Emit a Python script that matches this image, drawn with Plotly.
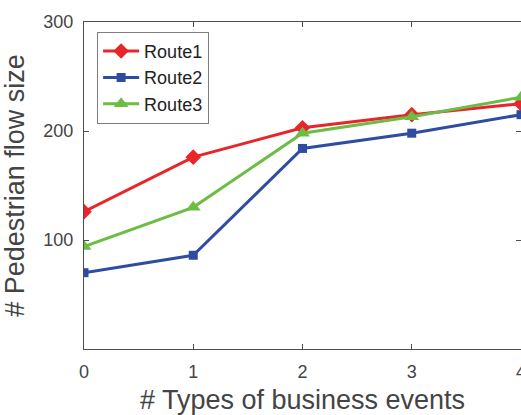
import plotly.graph_objects as go

# Number of business-event types on the x axis
event_types = [0, 1, 2, 3, 4]

# Pedestrian flow size per route
route1 = [126, 176, 203, 215, 225]
route2 = [70, 86, 184, 198, 215]
route3 = [94, 130, 198, 213, 231]

y_ticks = [100, 200, 300]

series = [
    ("Route1", route1, "#E8252B", "diamond", 12),
    ("Route2", route2, "#2F4DA0", "square", 9),
    ("Route3", route3, "#6CBD45", "triangle-up", 13),
]

fig = go.Figure()
for name, values, color, symbol, size in series:
    fig.add_trace(go.Scatter(
        x=event_types, y=values, name=name, mode="lines+markers",
        line=dict(color=color, width=3),
        marker=dict(symbol=symbol, size=size, color=color,
                    line=dict(width=0)),
        cliponaxis=True,
    ))

# invisible trace on a right-hand axis so the right side carries tick marks
fig.add_trace(go.Scatter(x=[0], y=[0], yaxis="y2", showlegend=False,
                         hoverinfo="skip", mode="markers",
                         marker=dict(opacity=0)))

axis_color = "#4d4d4d"
text_color = "#444444"
font_family = "Liberation Sans, Arial, sans-serif"

fig.update_layout(
    width=521, height=415,
    margin=dict(l=84, r=0, t=22, b=66, autoexpand=False),
    paper_bgcolor="white", plot_bgcolor="white",
    font=dict(family=font_family, color=text_color, size=18),
    showlegend=True,
    legend=dict(
        x=0.03, y=0.97, xanchor="left", yanchor="top",
        bgcolor="white", bordercolor="#7f7f7f", borderwidth=1,
        font=dict(size=18, color="#222222"),
        tracegroupgap=0, itemwidth=36,
    ),
    xaxis=dict(
        range=[0, 4], tickvals=event_types,
        ticks="inside", ticklen=5, tickcolor=axis_color,
        showline=True, linecolor=axis_color, linewidth=1, mirror="ticks",
        showgrid=False, zeroline=False, automargin=False,
        ticklabeloverflow="allow", ticklabelstandoff=6,
        tickfont=dict(size=18, color=text_color),
        title=dict(text="# Types of business events", standoff=16,
                   font=dict(size=27, color=text_color)),
    ),
    yaxis=dict(
        range=[0, 300], tickvals=y_ticks,
        ticks="inside", ticklen=5, tickcolor=axis_color,
        showline=True, linecolor=axis_color, linewidth=1, mirror=False,
        showgrid=False, zeroline=False, automargin=False,
        ticklabelstandoff=6,
        tickfont=dict(size=18, color=text_color),
        title=dict(text="# Pedestrian flow size", standoff=10,
                   font=dict(size=27, color=text_color)),
    ),
    yaxis2=dict(
        overlaying="y", side="right", matches="y",
        range=[0, 300], tickvals=y_ticks,
        ticks="inside", ticklen=5, tickcolor=axis_color,
        showticklabels=False, showline=False, automargin=False,
        showgrid=False, zeroline=False,
    ),
)

fig.write_html("out.html")
